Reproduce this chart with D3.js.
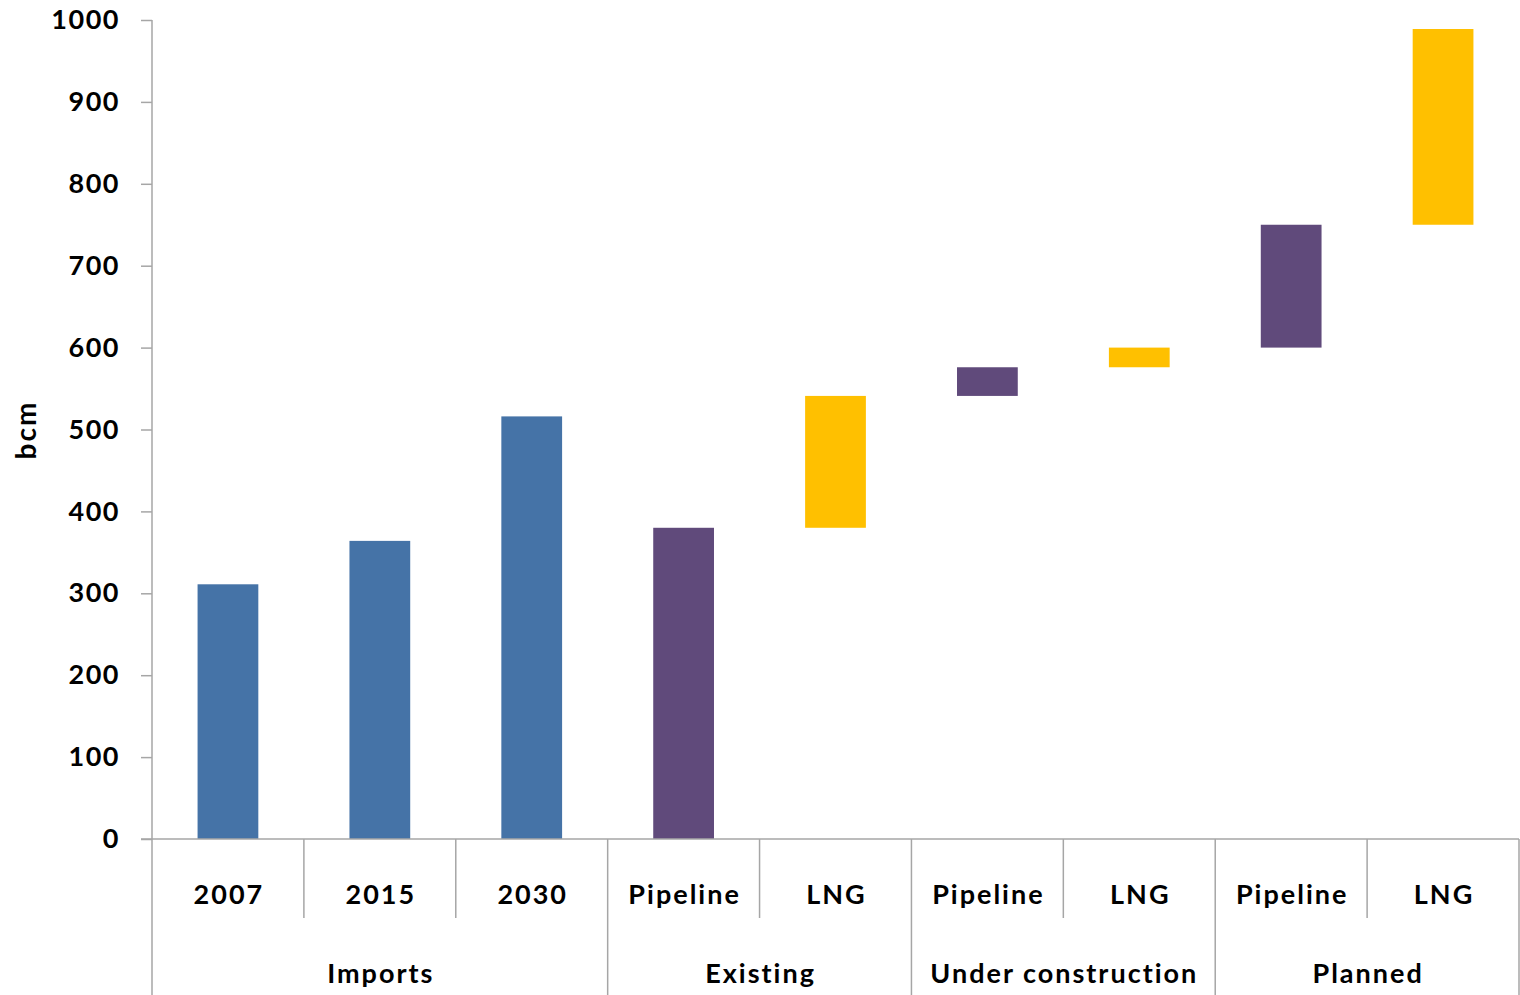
<!DOCTYPE html>
<html><head><meta charset="utf-8">
<script src="https://cdn.jsdelivr.net/npm/d3@7"></script>
<style>body{margin:0;background:#fff}svg{display:block}text{font-family:Lato,"Open Sans",sans-serif;font-weight:bold;fill:#000}</style>
</head><body><svg id="c" width="1520" height="995"></svg>
<script>
const categories = ["2007","2015","2030","Pipeline","LNG","Pipeline","LNG","Pipeline","LNG"];
const groups = ["Imports","Imports","Imports","Existing","Existing","Under construction","Under construction","Planned","Planned"];
const groupNames = ["Imports","Existing","Under construction","Planned"];
const barStart = [0,0,0,0,380,541,576,600,750];
const barEnd = [311,364,516,380,541,576,600,750,989];
const barType = ["import","import","import","pipe","lng","pipe","lng","pipe","lng"];
const yTicks = [0,100,200,300,400,500,600,700,800,900,1000];
const colors = {import:"#4573A7", pipe:"#604A7B", lng:"#FFC000"};

const svg = d3.select("#c");
const L = 152, R = 1519, T = 20, B = 839;
const x = d3.scaleBand().domain(d3.range(categories.length)).range([L, R]).paddingInner(0).paddingOuter(0);
const y = d3.scaleLinear().domain([0,1000]).range([B, T]);
const bw = x.bandwidth()*0.4;

svg.selectAll("rect.bar").data(categories).join("rect")
  .attr("x",(d,i)=>x(i)+(x.bandwidth()-bw)/2)
  .attr("y",(d,i)=>y(barEnd[i]))
  .attr("width",bw)
  .attr("height",(d,i)=>y(barStart[i])-y(barEnd[i]))
  .attr("fill",(d,i)=>colors[barType[i]]);

const axisColor = "#a6a6a6";
const yAxis = svg.append("g").attr("transform",`translate(${L},0)`)
  .call(d3.axisLeft(y).tickValues(yTicks).tickSize(11).tickPadding(21).tickFormat(d3.format("d")));
yAxis.select(".domain").remove();
yAxis.selectAll("line").attr("stroke",axisColor).attr("stroke-width",1.5);
yAxis.selectAll("text").attr("font-size",27).attr("letter-spacing","1.5px").attr("font-family","Lato").attr("font-weight","bold").attr("fill","#000");
svg.append("line").attr("x1",L).attr("x2",L).attr("y1",T).attr("y2",995).attr("stroke",axisColor).attr("stroke-width",1.5);
svg.append("line").attr("x1",L-11).attr("x2",R).attr("y1",B).attr("y2",B).attr("stroke",axisColor).attr("stroke-width",1.5);

const g = svg.append("g");
categories.forEach((c,i)=>{
  const xr = x(i)+x.bandwidth();
  const last = i===categories.length-1 || groups[i]!==groups[i+1];
  g.append("line").attr("x1",xr).attr("x2",xr).attr("y1",B).attr("y2",last?995:918)
   .attr("stroke",axisColor).attr("stroke-width",1.5);
  g.append("text").attr("x",x(i)+x.bandwidth()/2+1).attr("y",893).attr("text-anchor","middle")
   .attr("dominant-baseline","central").attr("font-size",27).attr("letter-spacing","2px").text(c);
});
groupNames.forEach(gn=>{
  const idx = groups.map((g,i)=>g===gn?i:-1).filter(i=>i>=0);
  const x0 = x(idx[0]), x1 = x(idx[idx.length-1])+x.bandwidth();
  g.append("text").attr("x",(x0+x1)/2+1).attr("y",972).attr("text-anchor","middle")
   .attr("dominant-baseline","central").attr("font-size",27).attr("letter-spacing","2px").text(gn);
});
svg.append("text").attr("transform","translate(25,430) rotate(-90)").attr("text-anchor","middle")
  .attr("dominant-baseline","central").attr("font-size",28).attr("letter-spacing","2px").text("bcm");
</script></body></html>
